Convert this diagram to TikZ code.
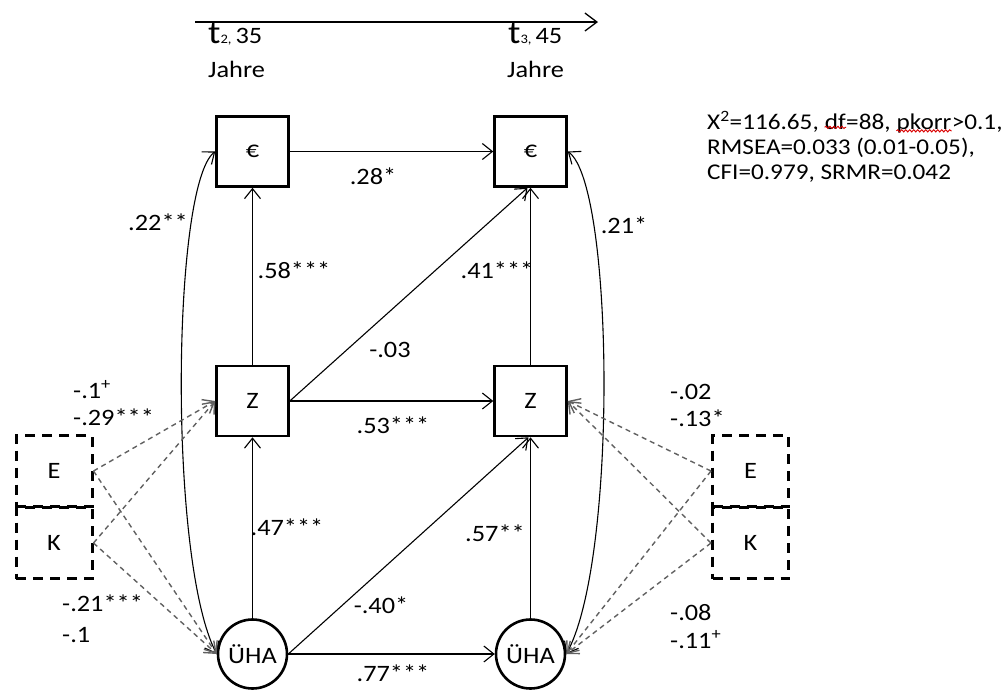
\documentclass[tikz,border=0pt]{standalone}
\usepackage{fontspec}
\setmainfont{Carlito}[FakeStretch=1.12]
\usetikzlibrary{arrows.meta,decorations.pathmorphing}

\begin{document}
\begin{tikzpicture}[x=1pt,y=-1pt,
  font=\fontsize{23.5}{28}\selectfont,
  >={Straight Barb[length=10pt,width=16pt]},
  box/.style={draw, line width=2.6pt, minimum width=72pt, minimum height=70pt, inner sep=0pt},
  lat/.style={draw, circle, line width=2.6pt, minimum size=69pt, inner sep=0pt},
  cov/.style={draw, line width=3pt, dash pattern=on 10pt off 7pt, minimum width=76pt, minimum height=71pt, inner sep=0pt},
  effect/.style={line width=1.1pt, ->},
  corr/.style={line width=1.1pt, <->},
  ctrl/.style={draw=black!62, line width=1.4pt, dash pattern=on 5pt off 4pt, ->},
  lbl/.style={inner sep=0pt},
  lblw/.style={inner sep=0pt, anchor=west},
  fit/.style={inner sep=0pt, anchor=base west, font=\fontsize{22.5}{27}\selectfont},
  squiggle/.style={draw=red!85!black, line width=0.9pt, decorate,
    decoration={snake, amplitude=1.1pt, segment length=4pt}}
]
\useasboundingbox (0,0) rectangle (1005,689);

% time axis
\coordinate (ta) at (195,22);
\coordinate (tb) at (598,22);
\draw[line width=1.3pt, -{Straight Barb[length=12pt,width=18pt]}] (ta) -- (tb);
\node[inner sep=0pt, anchor=base west] (t2) at (208,43)
  {{\fontsize{33}{33}\selectfont t}{\fontsize{13}{13}\selectfont 2,}\,35};
\node[inner sep=0pt, anchor=base west] (j2) at (208,77) {Jahre};
\node[inner sep=0pt, anchor=base west] (t3) at (508,43)
  {{\fontsize{33}{33}\selectfont t}{\fontsize{13}{13}\selectfont 3,}\,45};
\node[inner sep=0pt, anchor=base west] (j3) at (507,77) {Jahre};

% model variables
\node[box] (e1) at (252.5,151.5) {€};
\node[box] (e2) at (530.5,151.5) {€};
\node[box] (z1) at (252.5,401) {Z};
\node[box] (z2) at (530.5,401) {Z};
\node[lat] (u1) at (252.5,654) {ÜHA};
\node[lat] (u2) at (530.5,654) {ÜHA};

% control variables
\node[cov] (E1) at (54,471) {E};
\node[cov] (K1) at (54,543) {K};
\node[cov] (E2) at (750.5,471) {E};
\node[cov] (K2) at (750.5,543) {K};

% structural paths
\draw[effect] (e1) -- (e2);
\draw[effect] (z1) -- (e1);
\draw[effect] (z2) -- (e2);
\draw[effect] (z1.east) -- ([xshift=-3pt]e2.south);
\draw[effect] (z1) -- (z2);
\draw[effect] (u1) -- (z1);
\draw[effect] (u2) -- (z2);
\draw[effect] (u1.east) -- ([xshift=-2pt]z2.south);
\draw[effect] (u1) -- (u2);

% correlations
\draw[corr] (e1.west) .. controls (172,185) and (168,560) .. (u1.west);
\draw[corr] (e2.east) .. controls (614,185) and (618,560) .. (u2.east);

% control paths
\draw[ctrl] (E1.east) -- (z1.west);
\draw[ctrl] (E1.east) -- (u1.west);
\draw[ctrl] (K1.east) -- (z1.west);
\draw[ctrl] (K1.east) -- (u1.west);
\draw[ctrl] (E2.west) -- (z2.east);
\draw[ctrl] (E2.west) -- (u2.east);
\draw[ctrl] (K2.west) -- (z2.east);
\draw[ctrl] (K2.west) -- (u2.east);

% coefficients
\node[lbl] (l28) at (373,176) {.28*};
\node[lbl] (l22) at (158,222) {.22**};
\node[lbl] (l21) at (624,225) {.21*};
\node[lbl] (l58) at (294,270) {.58***};
\node[lbl] (l41) at (497,270) {.41***};
\node[lbl] (l03) at (390,350) {-.03};
\node[lbl] (l53) at (393,425) {.53***};
\node[lbl] (l47) at (287,527) {.47***};
\node[lbl] (l57) at (495,533) {.57**};
\node[lbl] (l40) at (381,605) {-.40*};
\node[lbl] (l77) at (393,673) {.77***};
\node[lblw] (la1) at (73,390) {-.1\textsuperscript{+}};
\node[lblw] (la2) at (73,417) {-.29***};
\node[lblw] (lb1) at (62,603) {-.21***};
\node[lblw] (lb2) at (62,635) {-.1};
\node[lblw] (ra1) at (670,392) {-.02};
\node[lblw] (ra2) at (670,418) {-.13*};
\node[lblw] (rb1) at (670,613) {-.08};
\node[lblw] (rb2) at (670,640) {-.11\textsuperscript{+}};

% fit statistics
\node[fit] (f1) at (707,129) {X\textsuperscript{2}=116.65,\ \mbox{}};
\node[fit] (f2) at (f1.base east) {df};
\node[fit] (f3) at (f2.base east) {=88,\ \mbox{}};
\node[fit] (f4) at (f3.base east) {pkorr};
\node[fit] (f5) at (f4.base east) {>0.1,};
\node[fit] (f6) at (707,154) {RMSEA=0.033 (0.01-0.05),};
\node[fit] (f7) at (707,179) {CFI=0.979, SRMR=0.042};
\draw[squiggle] ([yshift=2pt]f2.south west) -- ([yshift=2pt]f2.south east);
\draw[squiggle] ([yshift=2pt]f4.south west) -- ([yshift=2pt]f4.south east);
\end{tikzpicture}
\end{document}
